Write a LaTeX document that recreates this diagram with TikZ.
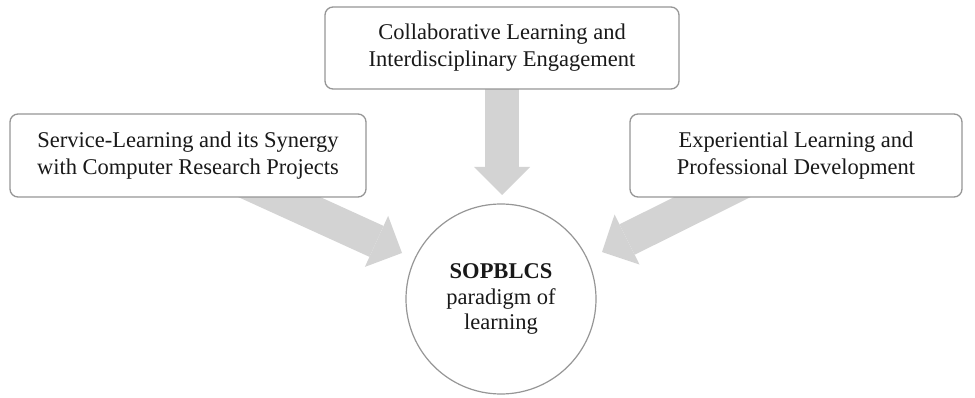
\documentclass[tikz,border=0pt]{standalone}
\usepackage{fontspec}
\setmainfont{Liberation Serif}
\usetikzlibrary{arrows.meta}
\definecolor{arrowgray}{RGB}{211,211,211}
\definecolor{boxline}{RGB}{150,150,150}
\definecolor{textdark}{RGB}{25,25,25}
\pgfdeclarelayer{background}
\pgfsetlayers{background,main}
\begin{document}
\begin{tikzpicture}[x=1pt,y=-1pt,
  lbl/.style={font=\fontsize{22.5}{27}\selectfont, text=textdark, align=center},
  box/.style={lbl, draw=boxline, line width=1.3pt, rounded corners=8pt, fill=white, inner sep=0pt},
  hub/.style={lbl, circle, draw=boxline, line width=1.2pt, fill=white, inner sep=0pt, minimum size=190pt,
    font=\fontsize{22.5}{25.5}\selectfont},
  blockarrow/.style={draw=arrowgray, line width=34pt,
    -{Triangle[width=56pt,length=28pt,line width=0pt]}}]
\useasboundingbox (0,0) rectangle (975,398);
\node[box, minimum width=354pt, minimum height=82pt] (top) at (502,48)
  {Collaborative Learning and\\Interdisciplinary Engagement};
\node[box, minimum width=356pt, minimum height=83pt] (left) at (188,155.5)
  {Service-Learning and its Synergy\\with Computer Research Projects};
\node[box, minimum width=332pt, minimum height=83pt] (right) at (796,155.5)
  {Experiential Learning and\\Professional Development};
\node[hub] (hub) at (501,299) {\textbf{SOPBLCS}\\paradigm of\\learning};
\coordinate (ttip) at (502,195);
\coordinate (ltip) at (402,253);
\coordinate (rtip) at (602,252);
\begin{pgfonlayer}{background}
\draw[blockarrow] (top.center) -- (ttip);
\draw[blockarrow] (left.center) -- (ltip);
\draw[blockarrow] (right.center) -- (rtip);
\end{pgfonlayer}
\end{tikzpicture}
\end{document}
